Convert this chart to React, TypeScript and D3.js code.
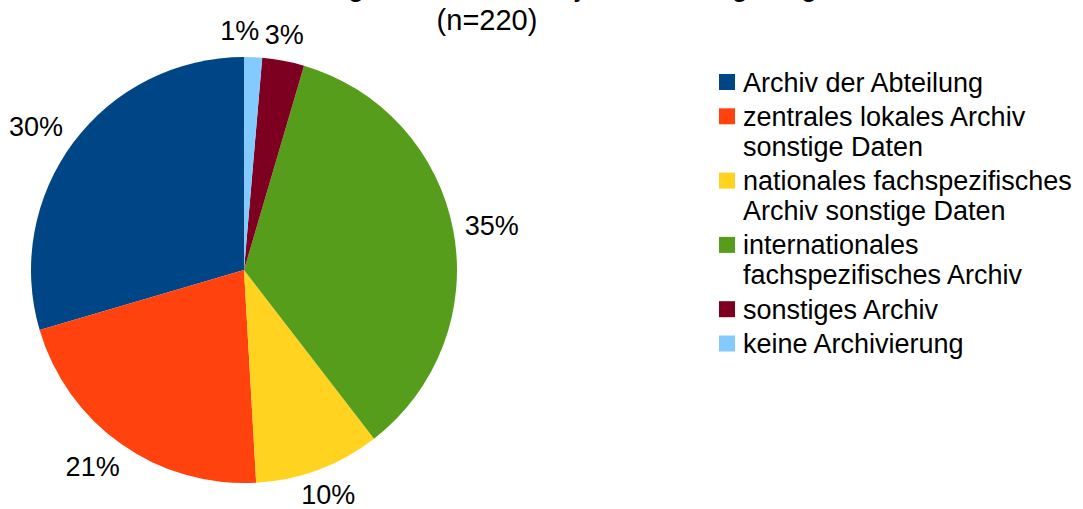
import React, { useEffect, useRef } from "react";
import * as d3 from "d3";

// Chart data
const titleLines = [
  "Wo werden Ihre Forschungsdaten nach Projektende langfristig archiviert?",
  "(n=220)",
];
const categories = [
  ["Archiv der Abteilung"],
  ["zentrales lokales Archiv", "sonstige Daten"],
  ["nationales fachspezifisches", "Archiv sonstige Daten"],
  ["internationales", "fachspezifisches Archiv"],
  ["sonstiges Archiv"],
  ["keine Archivierung"],
];
const counts = [65, 47, 21, 77, 7, 3];
const colors = ["#004586", "#ff420e", "#ffd320", "#579d1c", "#7e0021", "#83caff"];

interface Slice {
  label: string[];
  value: number;
  color: string;
}

const App: React.FC = () => {
  const svgRef = useRef<SVGSVGElement | null>(null);
  const width = 1083;
  const height = 509;

  useEffect(() => {
    const svg = d3.select(svgRef.current);
    svg.selectAll("*").remove();

    const font = "'Liberation Sans', Arial, sans-serif";
    const data: Slice[] = categories.map((c, i) => ({
      label: c,
      value: counts[i],
      color: colors[i],
    }));
    const total = d3.sum(counts);

    const cx = 244;
    const cy = 270;
    const radius = 213;

    // title (first line mostly clipped off the top, as in the source)
    svg
      .append("g")
      .selectAll("text")
      .data(titleLines)
      .enter()
      .append("text")
      .attr("x", 487)
      .attr("y", (d, i) => -4 + i * 34)
      .attr("text-anchor", "middle")
      .style("font-family", font)
      .style("font-size", "29px")
      .attr("fill", "#000")
      .text((d) => d);

    // pie, counter-clockwise from 12 o'clock
    const pie = d3
      .pie<Slice>()
      .sort(null)
      .value((d) => d.value)
      .startAngle(0)
      .endAngle(-2 * Math.PI);
    const arcs = pie(data);
    const arc = d3.arc<d3.PieArcDatum<Slice>>().innerRadius(0).outerRadius(radius);

    const chart = svg.append("g").attr("transform", `translate(${cx}, ${cy})`);
    chart
      .selectAll("path")
      .data(arcs)
      .enter()
      .append("path")
      .attr("d", arc)
      .attr("fill", (d) => d.data.color);

    // data labels outside the pie
    const fontSize = 27;
    const labelR = radius + 14;
    const boxes = arcs.map((a) => {
      const mid = (a.startAngle + a.endAngle) / 2;
      const text = `${Math.round((a.data.value / total) * 100)}%`;
      const w = text.length * 0.6 * fontSize + 2;
      const h = fontSize * 0.95;
      const s = Math.sin(mid);
      const px = s * labelR;
      const py = -Math.cos(mid) * labelR;
      return {
        text,
        w,
        h,
        x: px + (s * w) / 2 - 6 * (1 - Math.max(0, s)),
        y: py - (Math.cos(mid) * h) / 2,
      };
    });
    // simple overlap fix: push later overlapping label aside
    for (let i = 1; i < boxes.length; i++) {
      const a = boxes[i - 1];
      const b = boxes[i];
      const overlapX = a.w / 2 + b.w / 2 + 10 - Math.abs(a.x - b.x);
      const overlapY = a.h / 2 + b.h / 2 - Math.abs(a.y - b.y);
      if (overlapX > 0 && overlapY > 0) {
        if (b.x < a.x) b.x -= overlapX;
        else b.x += overlapX;
      }
    }
    chart
      .selectAll(".lbl")
      .data(boxes)
      .enter()
      .append("text")
      .attr("class", "lbl")
      .attr("x", (d) => d.x)
      .attr("y", (d) => d.y + fontSize * 0.36)
      .attr("text-anchor", "middle")
      .style("font-family", font)
      .style("font-size", `${fontSize}px`)
      .attr("fill", "#000")
      .text((d) => d.text);

    // legend
    const legend = svg.append("g").attr("transform", "translate(719, 0)");
    let y = 91.5;
    data.forEach((d) => {
      legend
        .append("rect")
        .attr("x", 0)
        .attr("y", y - 17.5)
        .attr("width", 16)
        .attr("height", 16)
        .attr("fill", d.color);
      d.label.forEach((line, j) => {
        legend
          .append("text")
          .attr("x", 24)
          .attr("y", y + j * 30)
          .style("font-family", font)
          .style("font-size", `${fontSize}px`)
          .attr("fill", "#000")
          .text(line);
      });
      y += d.label.length * 30 + 4.3;
    });
  }, []);

  return (
    <svg
      ref={svgRef}
      width={width}
      height={height}
      style={{ position: "absolute", left: 0, top: 0, background: "#fff" }}
    />
  );
};

export default App;
